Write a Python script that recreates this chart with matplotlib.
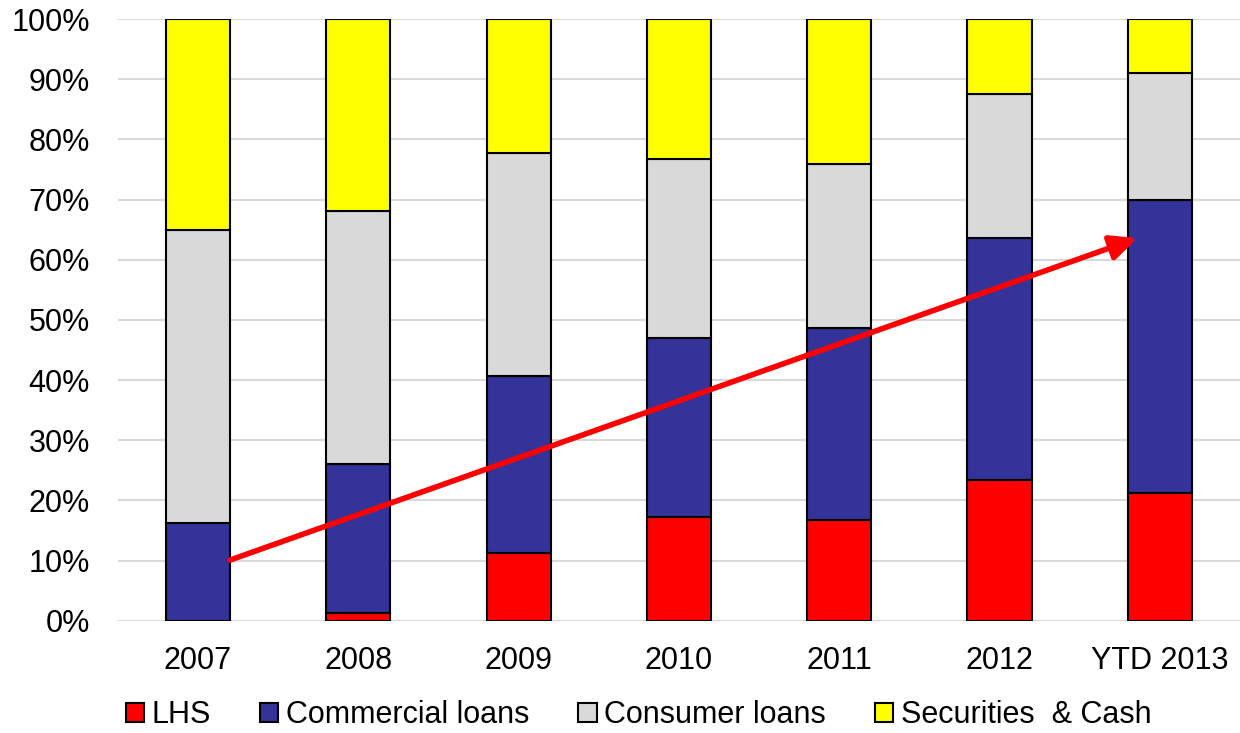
import numpy as np
import matplotlib.pyplot as plt
from matplotlib.ticker import PercentFormatter

plt.rcParams['font.family'] = ['Liberation Sans', 'DejaVu Sans']

# Data (percent of total)
years = ['2007', '2008', '2009', '2010', '2011', '2012', 'YTD 2013']
lhs = [0.0, 1.3, 11.3, 17.2, 16.8, 23.4, 21.2]
commercial = [16.2, 24.8, 29.4, 29.8, 31.8, 40.2, 48.8]
consumer = [48.7, 42.0, 37.0, 29.7, 27.3, 23.9, 21.1]
securities = [100 - a - b - c for a, b, c in zip(lhs, commercial, consumer)]

series = [('LHS', lhs, '#ff0000'),
          ('Commercial loans', commercial, '#333399'),
          ('Consumer loans', consumer, '#d9d9d9'),
          ('Securities  & Cash', securities, '#ffff00')]

# arrow start/end (category position, percent)
arrow_start = (0.2, 10.1)
arrow_end = (5.86, 63.6)

fig = plt.figure(figsize=(12.4, 7.33), dpi=100)
ax = fig.add_axes([0.095, 0.153, 0.905, 0.821])

x = np.arange(len(years))
bottom = np.zeros(len(years))
for name, vals, color in series:
    ax.bar(x, vals, 0.4, bottom=bottom, color=color, edgecolor='black',
           linewidth=1.5, label=name, zorder=3)
    bottom += np.array(vals)

ax.annotate('', xy=arrow_end, xytext=arrow_start,
            arrowprops=dict(arrowstyle='-|>,head_length=1.6,head_width=0.75',
                            color='#ff0000', lw=4, shrinkA=0, shrinkB=0),
            zorder=5)

ax.set_xlim(-0.5, 6.5)
ax.set_ylim(0, 100)
ax.set_yticks(np.arange(0, 101, 10))
ax.yaxis.set_major_formatter(PercentFormatter(decimals=0))
ax.set_xticks(x)
ax.set_xticklabels(years)
ax.tick_params(axis='both', length=0, labelsize=22, colors='black')
ax.tick_params(axis='x', pad=18)
ax.tick_params(axis='y', pad=20)
ax.grid(axis='y', color='#d9d9d9', linewidth=1.5, zorder=0)
for s in ax.spines.values():
    s.set_visible(False)

fig.legend(loc='lower center', bbox_to_anchor=(0.515, -0.034), ncol=4,
           frameon=False, fontsize=22, handlelength=0.6, handleheight=0.6,
           handletextpad=0.25, columnspacing=1.6)

fig.savefig('out.png', dpi=100)
